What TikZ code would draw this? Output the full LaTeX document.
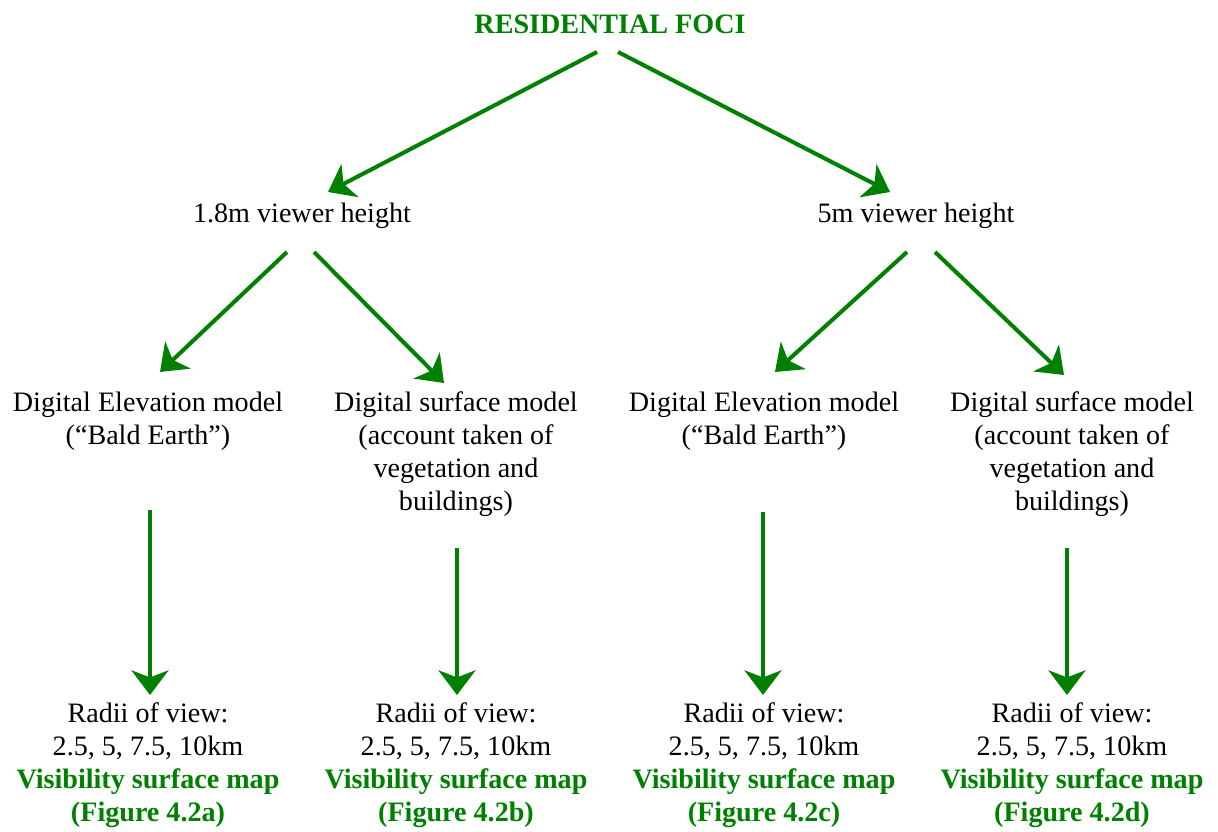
\documentclass[tikz,border=0pt]{standalone}
\usepackage{fontspec}
\setmainfont{Liberation Serif}
\usetikzlibrary{arrows.meta,calc}
\definecolor{foliage}{HTML}{008000}
\def \boxw {5.9 cm}
\tikzstyle{txt}=[align=center, inner sep=0pt, font=\fontsize{16}{18.8}\selectfont]
\tikzstyle{head}=[txt, text=foliage, font=\fontsize{16}{18.8}\selectfont\bfseries]
\tikzstyle{flow}=[foliage, line width=2.3pt, -{Stealth[length=14pt, width=21pt, inset=4pt]}]

\begin{document}
\begin{tikzpicture}[x=0.02cm, y=-0.02cm]
\useasboundingbox (0,0) rectangle (1218,832);

\node[head] (foci) at (610,24) {RESIDENTIAL FOCI};

\node[txt] (low) at (302,216) {1.8m viewer height};
\node[txt] (high) at (916,216) {5m viewer height};

\node[txt] (demA) at (148,421.5) {Digital Elevation model\\(“Bald Earth”)};
\node[txt] (dsmA) at (456,454) {Digital surface model\\(account taken of\\vegetation and\\buildings)};
\node[txt] (demB) at (764,421.5) {Digital Elevation model\\(“Bald Earth”)};
\node[txt] (dsmB) at (1072,454) {Digital surface model\\(account taken of\\vegetation and\\buildings)};

% radii of view and resulting maps
\foreach \n/\x/\f in {radA/148/a, radB/456/b, radC/764/c, radD/1072/d}
{
    \node[txt] (\n) at (\x,765.5) {Radii of view:\\2.5, 5, 7.5, 10km\\
        \textcolor{foliage}{\bfseries Visibility surface map}\\
        \textcolor{foliage}{\bfseries (Figure 4.2\f)}};
}

\draw[flow] ($(foci)+(-13,28)$) -- ($(low)+(26,-24)$);
\draw[flow] ($(foci)+(8,28)$) -- ($(high)+(-26,-24)$);

\draw[flow] ($(low)+(-15,36)$) -- ($(demA)+(12,-49.5)$);
\draw[flow] ($(low)+(12,36)$) -- ($(dsmA)+(-12,-71)$);
\draw[flow] ($(high)+(-9,36)$) -- ($(demB)+(11,-49.5)$);
\draw[flow] ($(high)+(19,36)$) -- ($(dsmB)+(-8,-79)$);

\draw[flow] ($(demA)+(2,88.5)$) -- ($(radA)+(2,-70.5)$);
\draw[flow] ($(dsmA)+(1,94)$) -- ($(radB)+(1,-70.5)$);
\draw[flow] ($(demB)+(-1,90.5)$) -- ($(radC)+(-1,-70.5)$);
\draw[flow] ($(dsmB)+(-5,94)$) -- ($(radD)+(-5,-70.5)$);

\end{tikzpicture}
\end{document}
